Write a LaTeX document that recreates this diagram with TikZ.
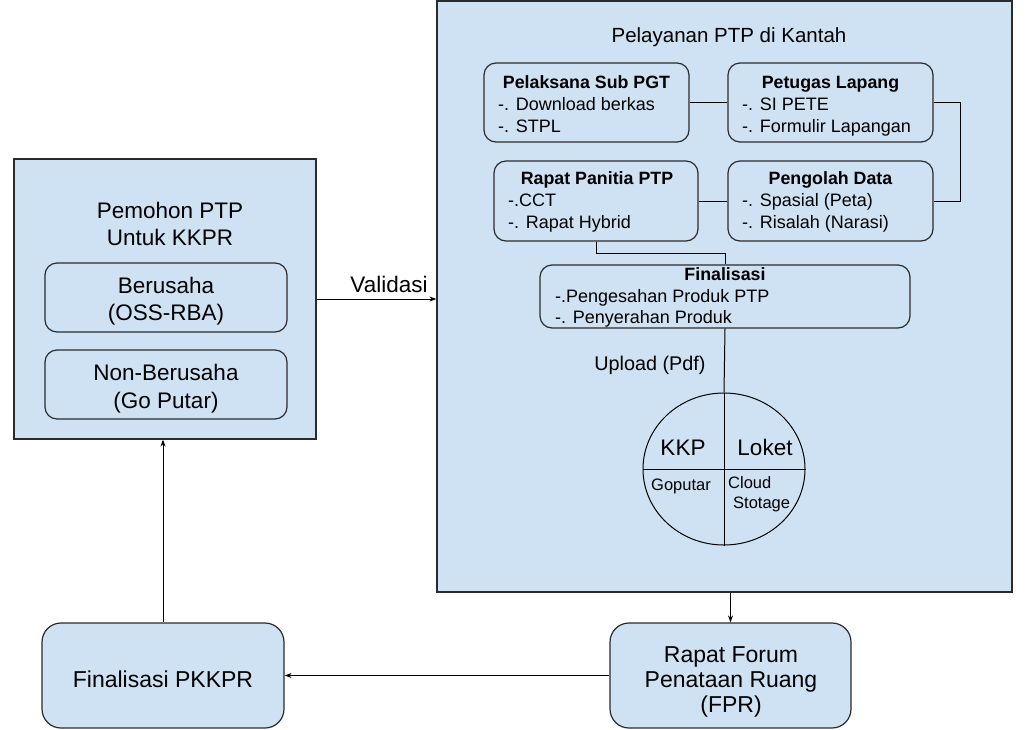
\documentclass[tikz,border=0pt]{standalone}
\usepackage{fontspec}
\setmainfont{Liberation Sans}
\usetikzlibrary{arrows.meta,shapes.geometric}
\definecolor{boxfill}{HTML}{CFE2F3}
\definecolor{edge}{HTML}{2B2B2B}
\tikzset{
  bigbox/.style={draw=edge,line width=1.2pt,fill=boxfill,rectangle,inner sep=0pt},
  subbox/.style={draw=edge,line width=1.2pt,fill=boxfill,rectangle,rounded corners=12pt,inner sep=0pt},
  botbox/.style={draw=edge,line width=1.2pt,fill=boxfill,rectangle,rounded corners=19pt,inner sep=0pt},
  conn/.style={draw=black,line width=1pt},
  arr/.style={conn,-{Stealth[length=7pt,width=5pt]}},
  txt/.style={inner sep=0pt,font=\fontsize{18}{22}\selectfont},
  ttl/.style={inner sep=0pt,font=\fontsize{17.8}{22}\selectfont\bfseries},
  big/.style={inner sep=0pt,font=\fontsize{22.5}{26}\selectfont},
  mid/.style={inner sep=0pt,font=\fontsize{23}{26}\selectfont},
  sml/.style={inner sep=0pt,font=\fontsize{16.5}{20}\selectfont},
}
\begin{document}
\begin{tikzpicture}[x=1pt,y=-1pt]
\useasboundingbox (0,0) rectangle (1028,729);
\fill[white] (0,0) rectangle (1028,729);

% big boxes
\node[bigbox,minimum width=575pt,minimum height=591pt] (kantah) at (724.5,296.5) {};
\node[bigbox,minimum width=302pt,minimum height=280pt] (pemohon) at (165,299) {};

% left box contents
\node[big,anchor=base] (t1) at (170,218) {Pemohon PTP};
\node[big,anchor=base] (t2) at (170,245) {Untuk KKPR};
\node[subbox,minimum width=242pt,minimum height=69pt] (berusaha) at (166,297.5) {};
\node[big,anchor=base] (b1) at (166,293) {Berusaha};
\node[big,anchor=base] (b2) at (166,320) {(OSS-RBA)};
\node[subbox,minimum width=242pt,minimum height=69pt] (nonber) at (166,384.5) {};
\node[big,anchor=base] (n1) at (166,380) {Non-Berusaha};
\node[big,anchor=base] (n2) at (166,408) {(Go Putar)};

% right box title
\node[inner sep=0pt,font=\fontsize{20.5}{26}\selectfont,anchor=base] (kt) at (729,42) {Pelayanan PTP di Kantah};

% sub boxes
\node[subbox,minimum width=205pt,minimum height=79pt] (pel) at (586.5,102.5) {};
\node[subbox,minimum width=205pt,minimum height=79pt] (pet) at (830.5,102.5) {};
\node[subbox,minimum width=204pt,minimum height=80pt] (rap) at (596,201) {};
\node[subbox,minimum width=205pt,minimum height=80pt] (peng) at (830.5,201) {};
\node[subbox,minimum width=370pt,minimum height=63pt] (fin) at (725,296.5) {};

\node[ttl,anchor=base] (pelt) at (586.5,88) {Pelaksana Sub PGT};
\node[txt,anchor=base west] (pel1) at (498,110) {-. Download berkas};
\node[txt,anchor=base west] (pel2) at (498,132) {-. STPL};

\node[ttl,anchor=base] (pett) at (830.5,88) {Petugas Lapang};
\node[txt,anchor=base west] (pet1) at (742,110) {-. SI PETE};
\node[txt,anchor=base west] (pet2) at (742,132) {-. Formulir Lapangan};

\node[ttl,anchor=base] (rapt) at (597,184) {Rapat Panitia PTP};
\node[txt,anchor=base west] (rap1) at (508,206) {-.CCT};
\node[txt,anchor=base west] (rap2) at (508,228) {-. Rapat Hybrid};

\node[ttl,anchor=base] (pengt) at (830.5,184) {Pengolah Data};
\node[txt,anchor=base west] (peng1) at (742,206) {-. Spasial (Peta)};
\node[txt,anchor=base west] (peng2) at (742,228) {-. Risalah (Narasi)};

\node[ttl,anchor=base] (fint) at (725,280) {Finalisasi};
\node[txt,anchor=base west] (fin1) at (555,302) {-.Pengesahan Produk PTP};
\node[txt,anchor=base west] (fin2) at (555,323) {-. Penyerahan Produk};

\node[inner sep=0pt,font=\fontsize{19.8}{22}\selectfont,anchor=base] (upl) at (650,370) {Upload (Pdf)};

% circle
\node[draw=black,line width=1pt,ellipse,minimum width=162pt,minimum height=152pt,inner sep=0pt] (circ) at (724,469) {};
\draw[conn] (circ.north) -- (circ.south);
\draw[conn] (circ.west) -- (circ.east);
\node[big,anchor=base] (kkp) at (683,455) {KKP};
\node[big,anchor=base] (loket) at (765,455) {Loket};
\node[sml,anchor=base] (gop) at (681,490) {Goputar};
\node[sml,anchor=base west] (cl1) at (728,488) {Cloud};
\node[sml,anchor=base west] (cl2) at (733,508) {Stotage};

% bottom boxes
\node[botbox,minimum width=242pt,minimum height=105pt] (fpkkpr) at (163,675.5) {};
\node[mid,anchor=base] (fpt) at (163,687) {Finalisasi PKKPR};
\node[botbox,minimum width=241pt,minimum height=105pt] (fpr) at (730.5,675.5) {};
\node[mid,anchor=base] (fpr1) at (731,662) {Rapat Forum};
\node[mid,anchor=base] (fpr2) at (731,687) {Penataan Ruang};
\node[mid,anchor=base] (fpr3) at (731,712) {(FPR)};

% connectors
\draw[arr] (pemohon.east) -- (pemohon.east -| kantah.west);
\node[big,anchor=base] (val) at (389,292) {Validasi};
\draw[conn] (pel.east) -- (pet.west);
\draw[conn] (rap.east) -- (peng.west);
\draw[conn] (pet.east) -- ++(27,0) |- (peng.east);
\draw[conn] (rap.south) -- ++(0,12) -| (fin.north);
\draw[conn] (fin.south) -- (circ.north);
\draw[arr] (fpr.north |- kantah.south) -- (fpr.north);
\draw[arr] (fpr.west) -- (fpkkpr.east);
\draw[arr] (fpkkpr.north) -- (fpkkpr.north |- pemohon.south);
\end{tikzpicture}
\end{document}
